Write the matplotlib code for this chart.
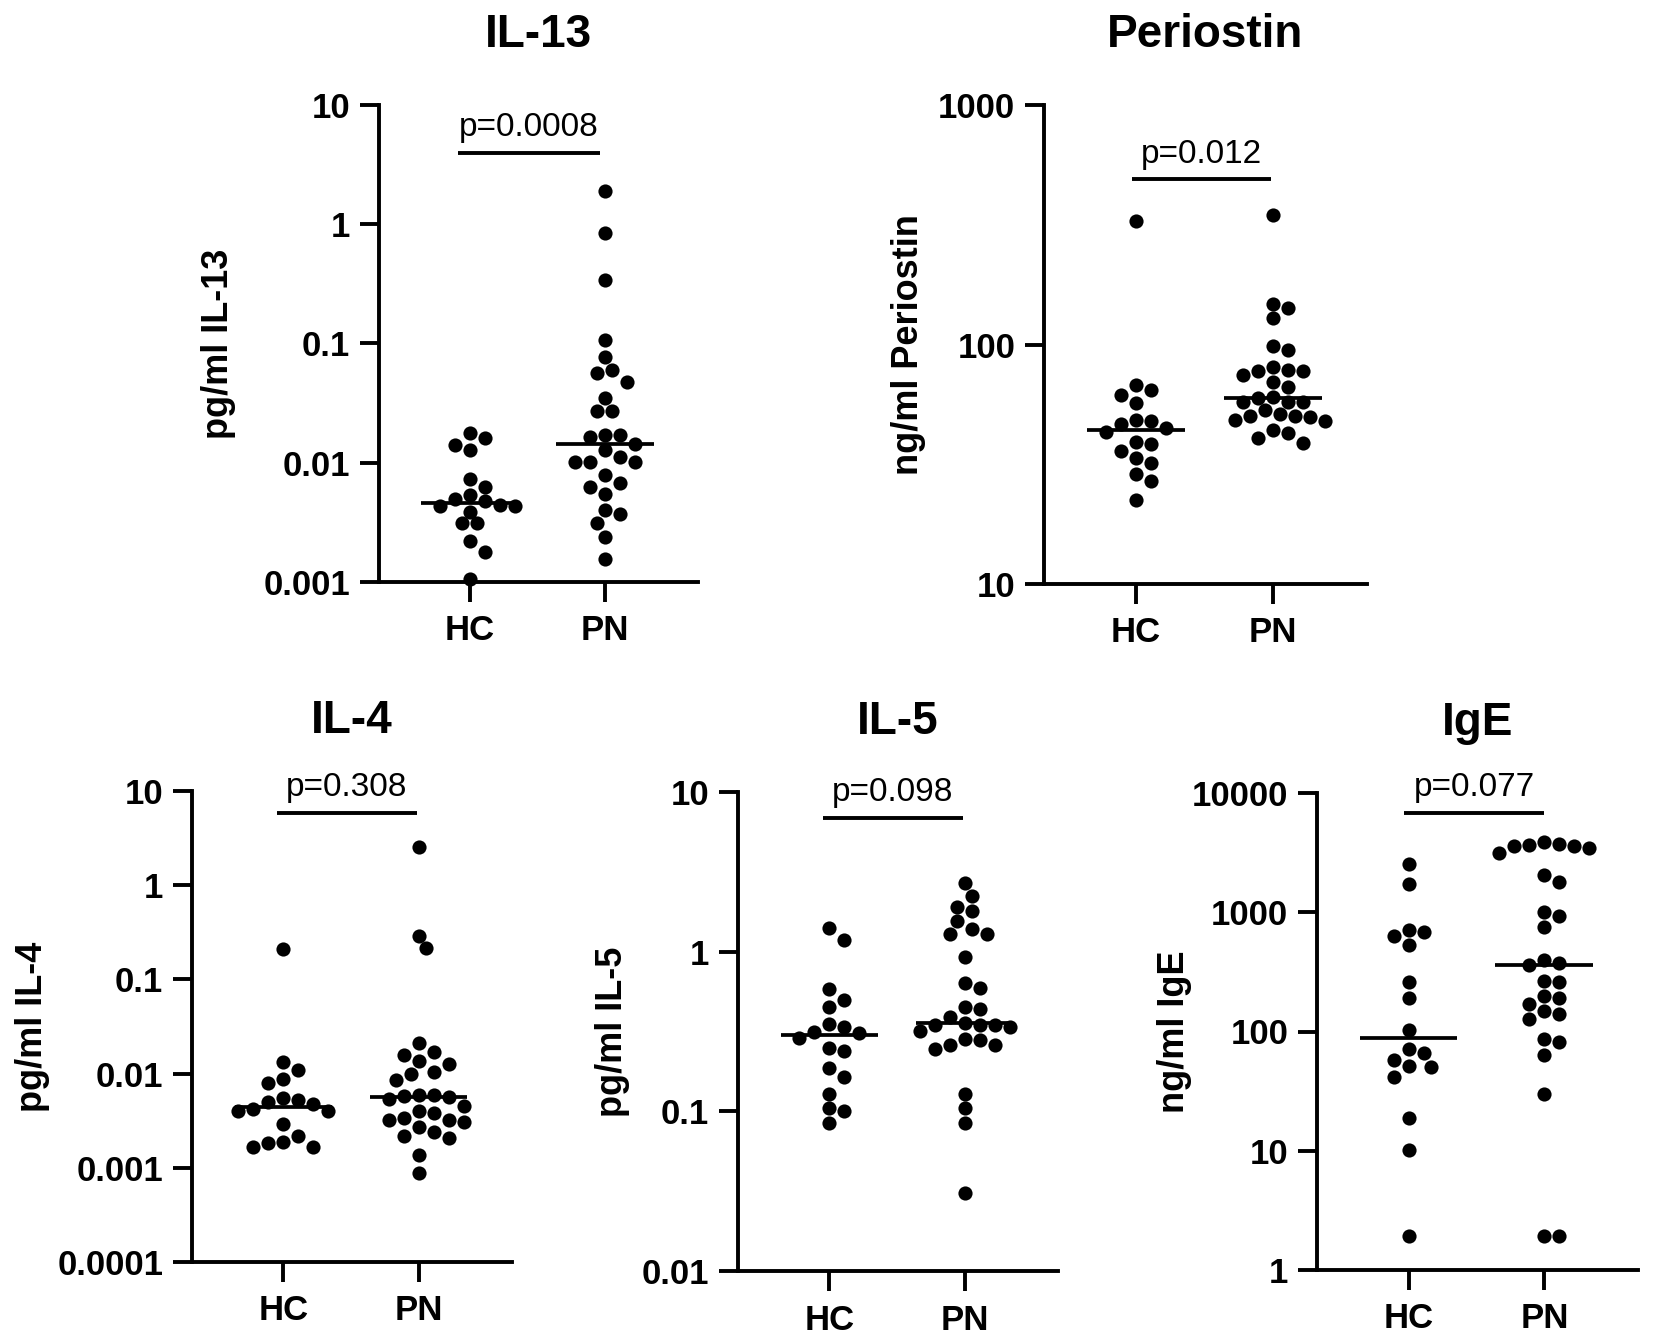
import numpy as np
import matplotlib
matplotlib.use("Agg")
import matplotlib.pyplot as plt
from matplotlib.ticker import FixedLocator, FuncFormatter, NullLocator
import matplotlib.transforms as mtransforms

plt.rcParams['font.family'] = ['Liberation Sans', 'DejaVu Sans']
plt.rcParams['font.weight'] = 'bold'

groups = ['HC', 'PN']

# values
il13_hc = [0.0177, 0.016, 0.0141, 0.0128, 0.0073, 0.0063, 0.0054, 0.0050, 0.0048,
           0.0044, 0.0043, 0.0043, 0.0039, 0.0031, 0.0031, 0.0022, 0.0018, 0.00106]
il13_pn = [1.9, 0.84, 0.34, 0.108, 0.077, 0.060, 0.057, 0.048, 0.035, 0.027,
           0.027, 0.017, 0.017, 0.0163, 0.0143, 0.0128, 0.0112, 0.0102, 0.0102, 0.0102,
           0.0079, 0.0067, 0.0063, 0.0055, 0.0040, 0.0037, 0.0031, 0.0024, 0.00156]

peri_hc = [328, 68, 64.6, 61.5, 56.8, 48.5, 47.7, 46.7, 45.0, 43.3, 39.3, 38.6,
           35.9, 33.5, 32.1, 28.9, 26.9, 22.5]
peri_pn = [348, 148, 142, 129, 99, 95, 80.7, 78.2, 77.6, 77.6, 74.8, 69.5, 66.2,
           60.1, 59.7, 57.8, 57.8, 57.3, 53.2, 51.2, 50.4, 50.4, 49.6, 48.3, 47.7,
           43.8, 42.9, 40.8, 38.7]

il4_hc = [0.21, 0.0134, 0.0108, 0.0087, 0.0079, 0.0055, 0.0052, 0.0050, 0.0047,
          0.0042, 0.0040, 0.0040, 0.0029, 0.0022, 0.00186, 0.00183, 0.00166, 0.00166]
il4_pn = [2.55, 0.29, 0.213, 0.021, 0.0169, 0.0158, 0.0137, 0.0127, 0.0103, 0.0099,
          0.0086, 0.0059, 0.0059, 0.0058, 0.0057, 0.00535, 0.00454, 0.00405, 0.00386,
          0.00336, 0.00323, 0.00318, 0.0031, 0.00274, 0.00241, 0.00215, 0.00207,
          0.00137, 0.00088]

il5_hc = [1.41, 1.19, 0.58, 0.50, 0.45, 0.35, 0.336, 0.313, 0.309, 0.290, 0.249,
          0.237, 0.188, 0.163, 0.129, 0.105, 0.100, 0.085]
il5_pn = [2.70, 2.22, 1.90, 1.81, 1.55, 1.39, 1.29, 1.29, 0.93, 0.64, 0.59, 0.45,
          0.44, 0.39, 0.357, 0.349, 0.349, 0.349, 0.336, 0.32, 0.284, 0.28, 0.261,
          0.261, 0.245, 0.129, 0.105, 0.084, 0.031]

ige_hc = [2520, 1720, 710, 680, 630, 530, 260, 190, 103, 72, 66, 57.5, 51.6, 50.6,
          41.7, 18.7, 10.1, 1.93]
ige_pn = [3880, 3720, 3640, 3570, 3570, 3480, 3160, 2040, 1800, 1000, 925, 754, 396,
          372, 360, 266, 261, 198, 191, 169, 149, 140, 128, 87, 81, 64, 30, 1.93, 1.93]

titles = ['IL-13', 'Periostin', 'IL-4', 'IL-5', 'IgE']
ylabels = ['pg/ml IL-13', 'ng/ml Periostin', 'pg/ml IL-4', 'pg/ml IL-5', 'ng/ml IgE']
p_texts = ['p=0.0008', 'p=0.012', 'p=0.308', 'p=0.098', 'p=0.077']
y_ranges = [(0.001, 10), (10, 1000), (0.0001, 10), (0.01, 10), (1, 10000)]
hc_data = [il13_hc, peri_hc, il4_hc, il5_hc, ige_hc]
pn_data = [il13_pn, peri_pn, il4_pn, il5_pn, ige_pn]

# layout in pixels: left, right, top, bottom of each axis frame
W, H = 1653, 1338
boxes = [(379, 698, 105, 582), (1044, 1367, 105, 584),
         (192, 512, 791, 1262), (738, 1058, 792, 1271), (1317, 1638, 793, 1270)]
label_x = [218, 909, 32, 612, 1174]
bar_y = [0.90, 0.845, 0.953, 0.946, 0.958]
bar_x = [(-0.09, 0.96), (-0.03, 0.99), (-0.05, 0.99), (-0.05, 0.99), (-0.03, 1.0)]

LW = 2.8
DOT = 10.2   # marker diameter in points


def swarm(ax, center, values, diam_px=14.0, step_px=7.5):
    vals = np.asarray(values, dtype=float)
    pts = ax.transData.transform(np.column_stack([np.full(len(vals), center), vals]))
    cx = pts[0, 0]
    ys = pts[:, 1]
    order = np.argsort(-ys)
    cands = [0.0]
    for k in range(1, 30):
        cands += [k * step_px, -k * step_px]
    placed = []
    offs = np.zeros(len(vals))
    for i in order:
        for off in cands:
            if all((off - px) ** 2 + (ys[i] - py) ** 2 >= diam_px ** 2 for px, py in placed):
                break
        placed.append((off, ys[i]))
        offs[i] = off
    back = ax.transData.inverted().transform(np.column_stack([cx + offs, ys]))
    return back[:, 0]


fig = plt.figure(figsize=(W / 100, H / 100), dpi=100)

for i in range(5):
    l, r, t, b = boxes[i]
    ax = fig.add_axes([l / W, 1 - b / H, (r - l) / W, (b - t) / H])
    ax.set_yscale('log')
    lo, hi = y_ranges[i]
    ax.set_ylim(lo, hi)
    ax.set_xlim(-0.674, 1.689)

    for s in ['top', 'right']:
        ax.spines[s].set_visible(False)
    for s in ['left', 'bottom']:
        ax.spines[s].set_linewidth(LW)
        ax.spines[s].set_capstyle('projecting')

    decades = 10.0 ** np.arange(np.log10(lo), np.log10(hi) + 0.5)
    ax.yaxis.set_major_locator(FixedLocator(decades))
    ax.yaxis.set_major_formatter(FuncFormatter(lambda v, pos: '{:g}'.format(v)))
    ax.yaxis.set_minor_locator(NullLocator())
    ax.tick_params(axis='y', width=LW, length=13.7, labelsize=25, pad=7)
    ax.set_xticks([0, 1])
    ax.set_xticklabels(groups)
    ax.tick_params(axis='x', width=LW, length=14.4, labelsize=25, pad=9)

    for pos, data in zip([0, 1], [hc_data[i], pn_data[i]]):
        xs = swarm(ax, pos, data)
        ax.scatter(xs, data, s=DOT ** 2, color='black', linewidths=0,
                   clip_on=False, zorder=3)
        med = np.median(data)
        ax.plot([pos - 0.36, pos + 0.36], [med, med], color='black', lw=2.7,
                solid_capstyle='butt', zorder=4, clip_on=False)

    trans = mtransforms.blended_transform_factory(ax.transData, ax.transAxes)
    x0, x1 = bar_x[i]
    ax.plot([x0, x1], [bar_y[i], bar_y[i]], color='black', lw=LW, transform=trans,
            solid_capstyle='butt', clip_on=False)
    ax.annotate(p_texts[i], xy=((x0 + x1) / 2, bar_y[i]), xycoords=trans, xytext=(0, 7),
                textcoords='offset points', ha='center', va='bottom',
                fontsize=24, fontweight='normal')

    ax.set_title(titles[i], fontsize=33, fontweight='bold', pad=42)
    ax.text((label_x[i] - l) / (r - l), 0.5, ylabels[i], transform=ax.transAxes,
            rotation=90, ha='center', va='center', fontsize=26, fontweight='bold')

fig.savefig('out.png', dpi=100, facecolor='white')
